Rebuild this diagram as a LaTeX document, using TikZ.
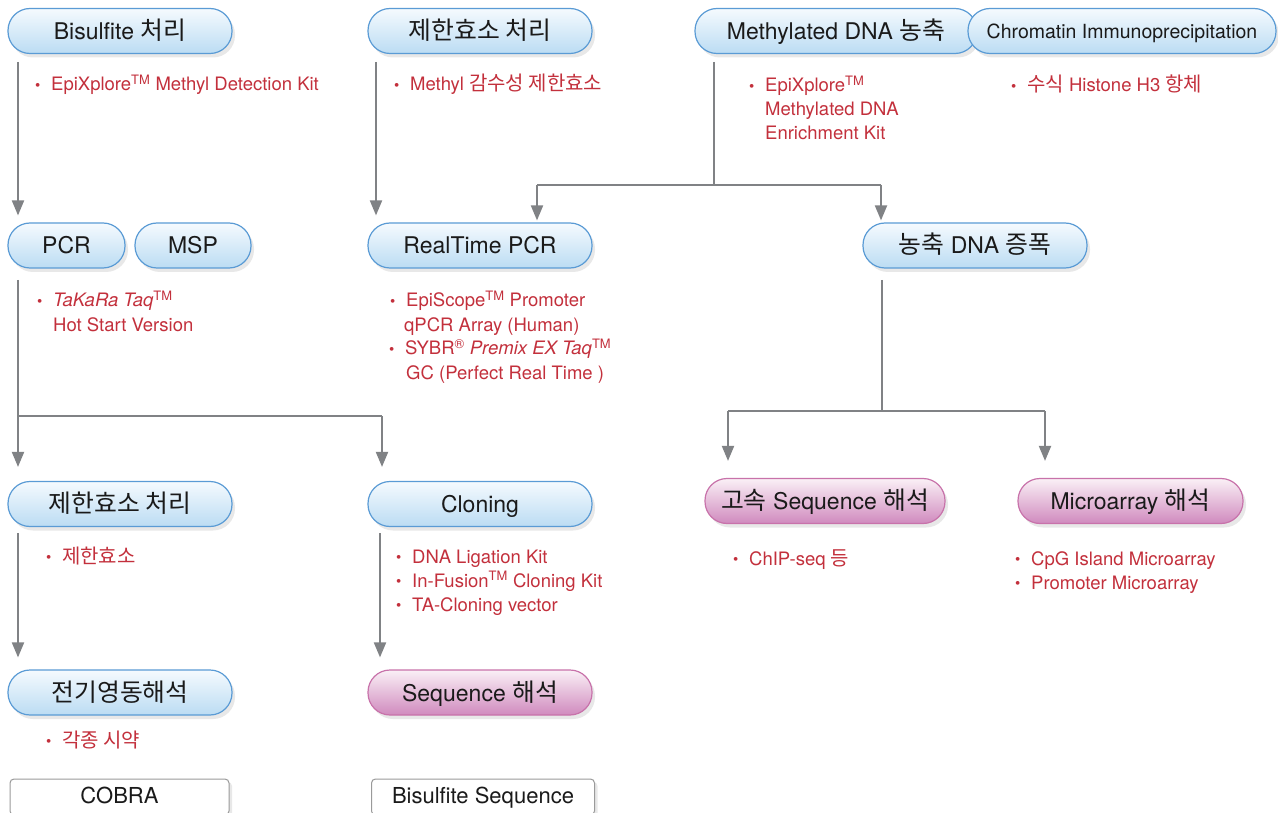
\documentclass[tikz,border=0pt]{standalone}
\usepackage{fontspec}
\setmainfont{TeX Gyre Heros}
\newfontfamily\krfont[Scale=1.08]{Noto Sans CJK KR}
\newcommand{\kr}[1]{{\krfont #1}}
\usetikzlibrary{arrows.meta,shadows}
\definecolor{conn}{HTML}{808285}
\definecolor{redtxt}{HTML}{C3303C}
\definecolor{blueline}{HTML}{5A9BD5}
\definecolor{bluetop}{HTML}{F5FAFE}
\definecolor{bluebot}{HTML}{BBDCF3}
\definecolor{pinkline}{HTML}{C872AA}
\definecolor{pinktop}{HTML}{FAF0F6}
\definecolor{pinkbot}{HTML}{D08ABE}
\definecolor{txt}{HTML}{1A1A1A}
\definecolor{boxline}{HTML}{9A9A9A}
\newcommand{\bl}{\llap{\makebox[16pt][l]{\fontsize{15}{15}\selectfont\raisebox{0.5pt}{•}}}}
\tikzset{
  pill/.style={rounded corners=22pt, minimum height=45pt, inner sep=0pt, text=txt,
    font=\fontsize{23}{27}\selectfont, line width=1.2pt, text height=17pt, text depth=0pt,
    drop shadow={opacity=0.18, shadow xshift=3pt, shadow yshift=-4pt}},
  bluepill/.style={pill, draw=blueline, top color=bluetop, bottom color=bluebot},
  pinkpill/.style={pill, draw=pinkline, top color=pinktop, bottom color=pinkbot},
  plainbox/.style={draw=boxline, fill=white, rounded corners=4pt, minimum height=36pt,
    inner sep=0pt, line width=1pt, text=txt, font=\fontsize{22}{26}\selectfont,
    text height=15pt, text depth=2pt,
    drop shadow={opacity=0.18, shadow xshift=3pt, shadow yshift=-3pt}},
  redtext/.style={anchor=base west, inner sep=0pt, text=redtxt, font=\fontsize{18.5}{24}\selectfont},
  conline/.style={draw=conn, line width=2pt},
  conarrow/.style={conline, -{Triangle[width=12pt,length=15pt]}},
}
\begin{document}
\begin{tikzpicture}[x=1pt,y=-1pt]
\useasboundingbox (0,0) rectangle (1278,813);
\clip (0,0) rectangle (1278,813);
\fill[white] (0,0) rectangle (1278,813);

% row 1
\node[bluepill, minimum width=224pt] (bis) at (120,31) {Bisulfite \kr{처리}};
\node[bluepill, minimum width=224pt] (enz1) at (480,31) {\kr{제한효소 처리}};
\node[bluepill, minimum width=282pt] (meth) at (836,31) {Methylated DNA \kr{농축}};
\node[bluepill, minimum width=308pt, font=\fontsize{19.5}{23}\selectfont, text height=15pt] (chip) at (1122,31) {Chromatin Immunoprecipitation};

% row 2
\node[bluepill, minimum width=117pt] (pcr) at (66.5,245.5) {PCR};
\node[bluepill, minimum width=116pt] (msp) at (193,245.5) {MSP};
\node[bluepill, minimum width=224pt] (rtpcr) at (480,245.5) {RealTime PCR};
\node[bluepill, minimum width=224pt] (amp) at (975,245.5) {\kr{농축} DNA \kr{증폭}};

% row 3
\node[bluepill, minimum width=224pt] (enz2) at (120,504) {\kr{제한효소 처리}};
\node[bluepill, minimum width=224pt] (clon) at (480,504) {Cloning};
\node[pinkpill, minimum width=240pt] (ngs) at (825,501) {\kr{고속} Sequence \kr{해석}};
\node[pinkpill, minimum width=225pt] (micro) at (1130.5,501) {Microarray \kr{해석}};

% row 4
\node[bluepill, minimum width=224pt] (elec) at (120,692.5) {\kr{전기영동해석}};
\node[pinkpill, minimum width=224pt] (seq) at (480,692.5) {Sequence \kr{해석}};

% row 5
\node[plainbox, minimum width=219pt] (cobra) at (119.5,797) {COBRA};
\node[plainbox, minimum width=223pt] (bsseq) at (483,797) {Bisulfite Sequence};

% connectors
\coordinate (a1) at (18,62);
\draw[conarrow, shorten >=7pt] (a1) -- (a1 |- pcr.north);
\coordinate (a2) at (376,62);
\draw[conarrow, shorten >=7pt] (a2) -- (a2 |- rtpcr.north);

\coordinate (m1) at (714,62);
\coordinate (m2) at (714,185);
\coordinate (m3) at (537,185);
\coordinate (m4) at (881,185);
\draw[conline] (m1) -- (m2);
\draw[conline] (m3) -- (m4);
\draw[conarrow, shorten >=2pt] (m3) -- (m3 |- rtpcr.north);
\draw[conarrow, shorten >=2pt] (m4) -- (m4 |- amp.north);

\coordinate (p1) at (18,280);
\coordinate (p2) at (18,416);
\coordinate (p3) at (382,416);
\draw[conline] (p1) -- (p2) -- (p3);
\draw[conarrow, shorten >=14pt] (p2) -- (p2 |- enz2.north);
\draw[conarrow, shorten >=14pt] (p3) -- (p3 |- clon.north);

\coordinate (q1) at (882,280);
\coordinate (q2) at (882,411);
\coordinate (q3) at (728,411);
\coordinate (q4) at (1045,411);
\draw[conline] (q1) -- (q2);
\draw[conline] (q3) -- (q4);
\draw[conarrow, shorten >=17pt] (q3) -- (q3 |- ngs.north);
\draw[conarrow, shorten >=17pt] (q4) -- (q4 |- micro.north);

\coordinate (r1) at (18,533);
\draw[conarrow, shorten >=12pt] (r1) -- (r1 |- elec.north);
\coordinate (r2) at (380,533);
\draw[conarrow, shorten >=12pt] (r2) -- (r2 |- seq.north);

% red texts
\node[redtext] (t1) at (51,91) {\bl EpiXplore\textsuperscript{TM} Methyl Detection Kit};
\node[redtext] (t2) at (410,91) {\bl Methyl \kr{감수성 제한효소}};
\node[redtext] (t3) at (765,92) {\bl EpiXplore\textsuperscript{TM}};
\node[redtext] (t3b) at (765,116) {Methylated DNA};
\node[redtext] (t3c) at (765,140) {Enrichment Kit};
\node[redtext] (t4) at (1027,92) {\bl \kr{수식} Histone H3 \kr{항체}};
\node[redtext] (t5) at (53,307) {\bl \textit{TaKaRa Taq}\textsuperscript{TM}};
\node[redtext] (t5b) at (53,331) {Hot Start Version};
\node[redtext] (t6) at (406,307) {\bl EpiScope\textsuperscript{TM} Promoter};
\node[redtext] (t6b) at (404,331) {qPCR Array (Human)};
\node[redtext] (t6c) at (405,355) {\bl SYBR\textsuperscript{®} \textit{Premix EX Taq}\textsuperscript{TM}};
\node[redtext] (t6d) at (406,379) {GC (Perfect Real Time )};
\node[redtext] (t7) at (62,563) {\bl \kr{제한효소}};
\node[redtext] (t8) at (412,563) {\bl DNA Ligation Kit};
\node[redtext] (t8b) at (412,587) {\bl In-Fusion\textsuperscript{TM} Cloning Kit};
\node[redtext] (t8c) at (412,611) {\bl TA-Cloning vector};
\node[redtext] (t9) at (749,565) {\bl ChIP-seq \kr{등}};
\node[redtext] (t10) at (1031,565) {\bl CpG Island Microarray};
\node[redtext] (t10b) at (1031,589) {\bl Promoter Microarray};
\node[redtext] (t11) at (62,747) {\bl \kr{각종 시약}};
\end{tikzpicture}
\end{document}
